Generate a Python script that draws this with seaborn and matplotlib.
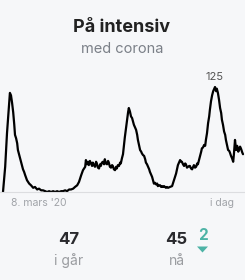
import matplotlib
matplotlib.use("Agg")
import matplotlib.pyplot as plt
from matplotlib.patches import Polygon
import seaborn as sns
import pandas as pd

sns.set_theme(style="white")
plt.rcParams['font.family'] = ['Inter', 'DejaVu Sans']

# Data: days since 8 March 2020 and ICU patients with corona
days = [0, 6, 11, 17, 19, 22, 25, 28, 31, 33, 36, 39, 41, 44, 47, 50, 55, 58, 61, 66, 69, 72,
        77, 83, 88, 94, 99,
        105, 110, 116, 121, 127, 132, 138, 143, 149, 154, 160, 165, 171, 176, 182, 187,
        193, 198, 204, 209, 215, 220, 226, 228, 231, 234, 236, 239, 242, 245, 247, 250,
        253, 256, 258, 261, 264, 267, 269, 272, 275, 278, 280, 283, 286, 289, 291, 294,
        297, 300, 302, 305, 308, 311, 313, 316, 319, 322, 324, 327, 330, 335, 341, 344,
        346, 349, 352, 355, 358, 360, 363, 366, 369, 371, 374, 377, 380, 382, 385, 388,
        391, 393, 396, 399, 402, 404, 407, 410, 415, 418, 421, 424, 426, 429, 432, 435,
        437, 440, 443, 448, 451, 454, 459, 465, 470, 476, 479, 481, 484, 487, 490, 492,
        495, 498, 501, 503, 506, 509, 512, 514, 517, 520, 523, 525, 528, 531, 534, 536,
        539, 542, 545, 547, 550, 553, 556, 558, 561, 564, 567, 569, 572, 575, 578, 580,
        583, 586, 588, 591, 594, 597, 600, 602, 605, 608, 611, 613, 616, 619, 622, 624,
        627, 630, 633, 635, 638, 641, 644, 647, 649, 652, 655, 658, 660]
patients = [0, 30, 70, 105, 118, 115, 106, 95, 80, 68, 64, 58, 50, 45, 40, 35, 27, 24, 20, 14, 12, 10,
            8, 5, 6, 3, 4,
            2, 2, 1, 0, 1, 0, 1, 0, 1, 0, 1, 1, 2, 1, 3, 3,
            4, 6, 8, 12, 20, 26, 30, 38, 33, 36, 32, 37, 34, 31, 35, 32,
            30, 36, 34, 29, 28, 33, 31, 35, 36, 33, 39, 34, 33, 37, 35, 30,
            29, 32, 31, 27, 26, 30, 28, 32, 31, 35, 34, 40, 45, 65, 85, 95,
            100, 96, 90, 88, 83, 80, 77, 74, 68, 62, 56, 50, 48, 46, 44, 43,
            39, 35, 33, 30, 27, 24, 21, 18, 10, 11, 9, 10, 7, 8, 8, 6,
            7, 6, 7, 5, 6, 5, 6, 7, 14, 22, 28, 32, 35, 38, 36, 36,
            33, 31, 34, 33, 29, 30, 31, 31, 28, 27, 30, 32, 29, 30, 34, 33,
            38, 43, 48, 52, 53, 56, 55, 62, 70, 82, 90, 98, 108, 115, 120, 122,
            125, 120, 123, 118, 110, 100, 94, 86, 80, 72, 68, 62, 56, 50, 49, 47,
            43, 40, 36, 45, 62, 50, 55, 48, 50, 54, 51, 47, 45]

x_labels = ["8. mars '20", "i dag"]
title = "På intensiv"
subtitle = "med corona"
peak_label = "125"
yesterday_value, yesterday_label = "47", "i går"
today_value, today_label = "45", "nå"
change_value = "2"

W, H = 245, 280
bg = "#f6f7f9"
fig = plt.figure(figsize=(W / 100, H / 100), dpi=100, facecolor=bg)

def fy(y):
    return 1 - y / H

# axes spanning x 0..245 px, y 70..192 px
ax = fig.add_axes([0, fy(192), 1, (192 - 70) / H])
ax.set_facecolor(bg)
df = pd.DataFrame({"day": days, "patients": patients})
sns.lineplot(data=df, x="day", y="patients", ax=ax, color="black", linewidth=1.6)
ppd = 240 / 660
ax.set_xlim(-3 / ppd, 660 + 2 / ppd)
ax.set_ylim(0, 122 / 0.84)
for s in ["top", "right", "left"]:
    ax.spines[s].set_visible(False)
ax.spines["bottom"].set_color("#dcdde0")
ax.spines["bottom"].set_linewidth(0.8)
ax.set_xticks([])
ax.set_yticks([])
ax.set_xlabel("")
ax.set_ylabel("")

peak_i = patients.index(max(patients))
ax.annotate(peak_label, xy=(days[peak_i], patients[peak_i]), xytext=(0, 7),
            textcoords="offset points", ha="center", va="center",
            fontsize=8, color="#555555")

fig.text(122 / W, fy(27), title, ha="center", va="center", fontsize=13,
         fontweight="bold", color="#222222")
fig.text(122 / W, fy(49), subtitle, ha="center", va="center", fontsize=10.5,
         color="#7b8088")
fig.text(11 / W, fy(203), x_labels[0], ha="left", va="center", fontsize=7.5,
         color="#a0a3a8")
fig.text(234 / W, fy(203), x_labels[1], ha="right", va="center", fontsize=7.5,
         color="#a0a3a8")

fig.text(69 / W, fy(240), yesterday_value, ha="center", va="center", fontsize=12,
         fontweight="bold", color="#2a2a2e")
fig.text(69 / W, fy(261), yesterday_label, ha="center", va="center", fontsize=10,
         color="#9a9ca0")
fig.text(176.5 / W, fy(240), today_value, ha="center", va="center", fontsize=12,
         fontweight="bold", color="#2a2a2e")
fig.text(176.5 / W, fy(261), today_label, ha="center", va="center", fontsize=10,
         color="#9a9ca0")
teal = "#4db3a6"
fig.text(203 / W, fy(235.5), change_value, ha="center", va="center", fontsize=11,
         fontweight="bold", color=teal)
tri = Polygon([(197 / W, fy(246.5)), (208 / W, fy(246.5)), (202.5 / W, fy(252.5))],
              closed=True, facecolor=teal, edgecolor="none", transform=fig.transFigure)
fig.patches.append(tri)

fig.savefig("out.png", dpi=100, facecolor=bg)
